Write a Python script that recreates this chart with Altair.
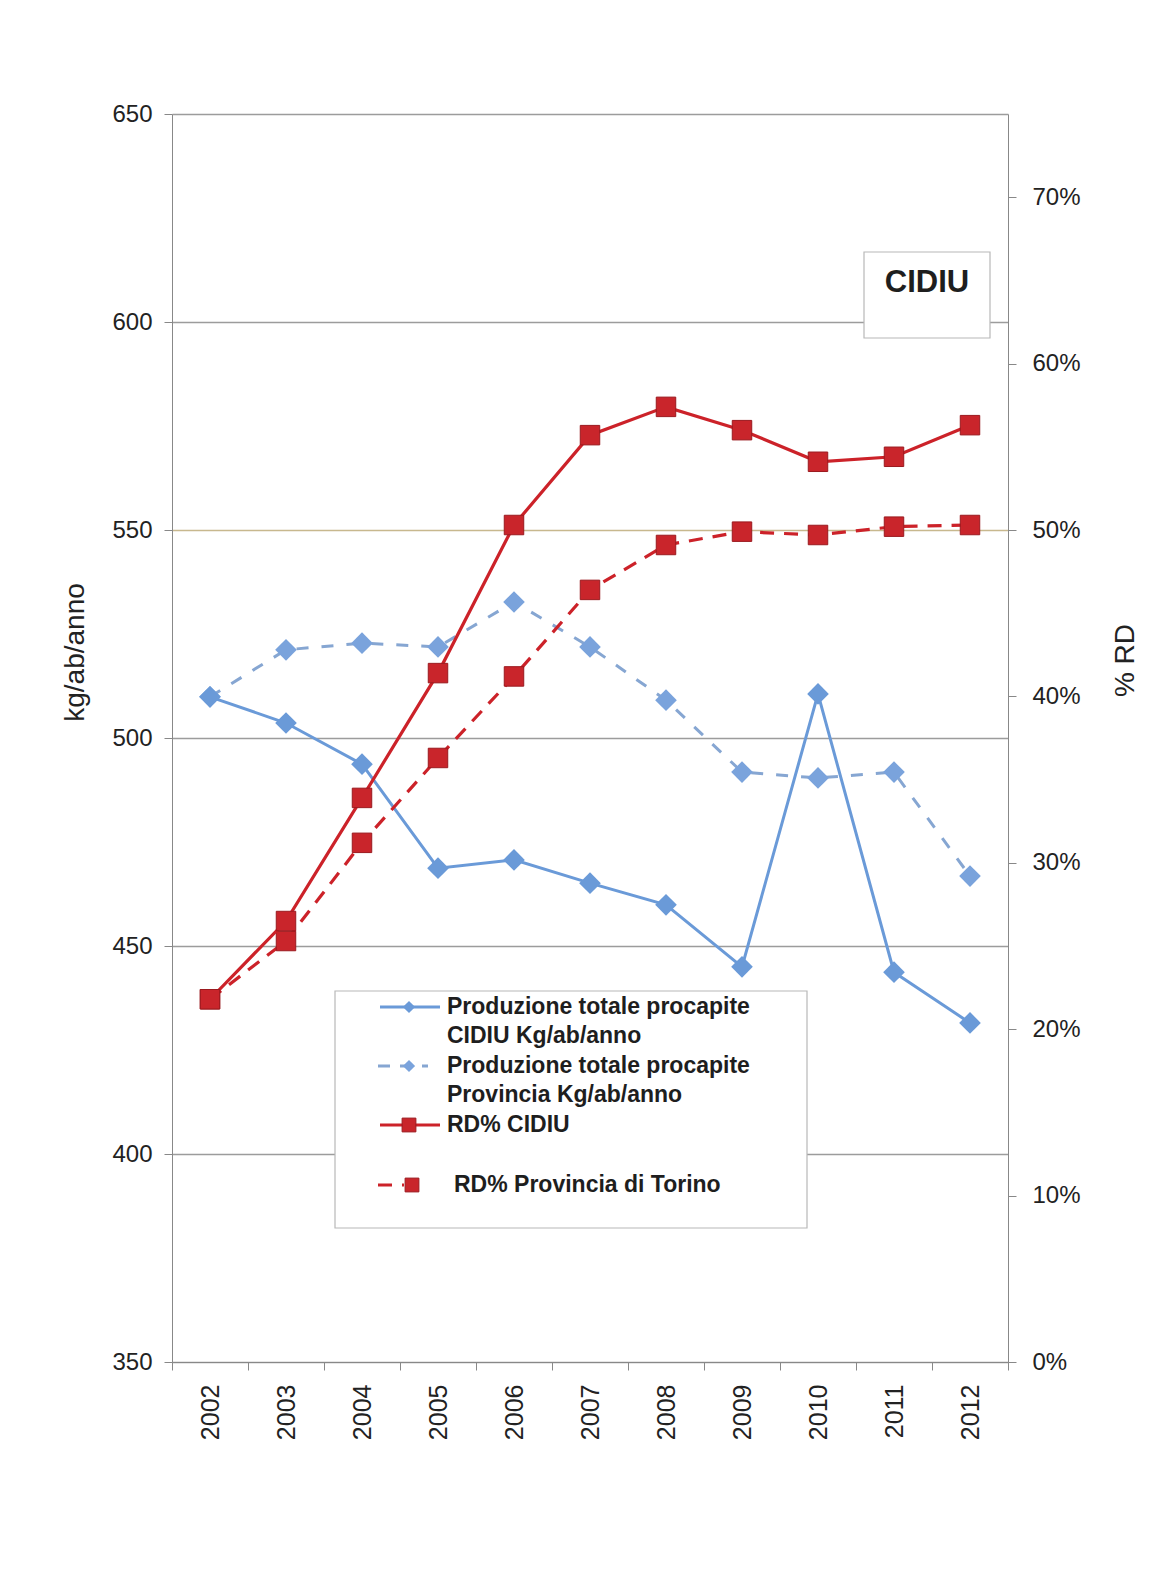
import altair as alt
import pandas as pd

# ---- data ----
years = ["2002", "2003", "2004", "2005", "2006", "2007", "2008", "2009", "2010", "2011", "2012"]
prod_cidiu = [509.9, 503.6, 493.7, 468.7, 470.7, 465.1, 459.9, 445.0, 510.6, 443.7, 431.5]
prod_prov = [509.9, 521.2, 522.8, 521.9, 532.7, 521.9, 509.1, 491.8, 490.4, 491.8, 466.8]
rd_cidiu_pct = [21.8, 26.5, 33.9, 41.4, 50.3, 55.7, 57.4, 56.0, 54.1, 54.4, 56.3]
rd_prov_pct = [21.8, 25.3, 31.2, 36.3, 41.2, 46.4, 49.1, 49.9, 49.7, 50.2, 50.3]

s_pc = "Produzione totale procapite CIDIU Kg/ab/anno"
s_pp = "Produzione totale procapite Provincia Kg/ab/anno"
s_rc = "RD% CIDIU"
s_rp = "RD% Provincia di Torino"

left_ticks = [350, 400, 450, 500, 550, 600, 650]
right_ticks = [0, 0.1, 0.2, 0.3, 0.4, 0.5, 0.6, 0.7]

df_prod = pd.DataFrame({
    "year": years * 2,
    "series": [s_pc] * len(years) + [s_pp] * len(years),
    "value": prod_cidiu + prod_prov,
})
df_rd = pd.DataFrame({
    "year": years * 2,
    "series": [s_rc] * len(years) + [s_rp] * len(years),
    "value": [v / 100 for v in rd_cidiu_pct] + [v / 100 for v in rd_prov_pct],
})

FONT = "Liberation Sans"
BLUE = "#6a9ad8"
BLUE2 = "#86a6d2"
BLUE2M = "#7aa3dc"
RED = "#cc2229"
REDM = "#c9252b"
REDS = "#9b1a1f"

x_enc = alt.X(
    "year:O",
    sort=years,
    scale=alt.Scale(type="band", paddingInner=0, paddingOuter=0),
    bandPosition=0.5,
    axis=alt.Axis(
        title=None, labelAngle=-90, tickBand="extent", labelFontSize=25,
        labelPadding=14, tickSize=8, tickColor="#888", domainColor="#888",
        labelColor="#222", labelFont=FONT, grid=False,
    ),
)

left_axis = alt.Axis(
    values=left_ticks, title="kg/ab/anno", titleX=-97, titleY=538, titleAngle=270,
    titleAlign="center", titleBaseline="middle", titleFontSize=28,
    titleFontWeight="normal", titleFont=FONT, titleColor="#222",
    labelFontSize=24, labelPadding=12, labelFont=FONT, labelColor="#222",
    tickSize=8, tickColor="#888", domainColor="#888", grid=True,
    gridColor={"condition": {"test": "datum.value == 550", "value": "#c8b88e"}, "value": "#9c9c9c"},
    gridWidth=1.5,
)
right_axis = alt.Axis(
    orient="right", values=right_ticks, format=".0%", title="% RD",
    titleX=117, titleY=546, titleAngle=270, titleAlign="center",
    titleBaseline="middle", titleFontSize=28, titleFontWeight="normal",
    titleFont=FONT, titleColor="#222", labelFontSize=24, labelPadding=16,
    labelFont=FONT, labelColor="#222", tickSize=8, tickColor="#888",
    domainColor="#888", grid=False,
)

y_left = alt.Y("value:Q", scale=alt.Scale(domain=[350, 650], nice=False, zero=False), axis=left_axis)
y_right = alt.Y("value:Q", scale=alt.Scale(domain=[0, 0.75], nice=False, zero=False), axis=right_axis)


def series_layers(df, name, y, line_color, dash, width, shape, size, fill, stroke=None):
    base = alt.Chart(df).transform_filter(alt.datum.series == name)
    line_kw = dict(color=line_color, strokeWidth=width)
    if dash:
        line_kw["strokeDash"] = dash
    ln = base.mark_line(**line_kw).encode(x=x_enc, y=y)
    enc = dict(x=x_enc, y=y)
    if stroke:
        enc["stroke"] = alt.value(stroke)
    pt = base.mark_point(shape=shape, filled=True, size=size, color=fill, opacity=1,
                         strokeWidth=1).encode(**enc)
    return [ln, pt]


left = alt.layer(
    *series_layers(df_prod, s_pp, y_left, BLUE2, [12, 13], 3, "diamond", 470, BLUE2M),
    *series_layers(df_prod, s_pc, y_left, BLUE, None, 3, "diamond", 470, BLUE),
)
right = alt.layer(
    *series_layers(df_rd, s_rp, y_right, RED, [14, 10], 3.2, "square", 380, REDM, REDS),
    *series_layers(df_rd, s_rc, y_right, RED, None, 3.2, "square", 380, REDM, REDS),
)

# ---- legend and label box (decorations) ----
one = pd.DataFrame({"k": [0]})


def box(x1, x2, y1, y2):
    return alt.Chart(one).mark_rect(fill="white", stroke="#b8b8b8", strokeWidth=1.2).encode(
        x=alt.value(x1), x2=alt.value(x2), y=alt.value(y1), y2=alt.value(y2))


def hrule(x1, x2, y, color, dash=None, width=3):
    kw = dict(color=color, strokeWidth=width)
    if dash:
        kw["strokeDash"] = dash
    return alt.Chart(one).mark_rule(**kw).encode(x=alt.value(x1), x2=alt.value(x2), y=alt.value(y))


def sym(x, y, shape, color, size, stroke=None):
    enc = dict(x=alt.value(x), y=alt.value(y))
    if stroke:
        enc["stroke"] = alt.value(stroke)
    return alt.Chart(one).mark_point(shape=shape, filled=True, size=size, color=color, opacity=1,
                                     strokeWidth=1).encode(**enc)


def label(x, y, txt, size=23, weight="bold", align="left"):
    return alt.Chart(one).mark_text(align=align, baseline="middle", fontSize=size, fontWeight=weight,
                                    font=FONT, color="#1e1e1e").encode(
        x=alt.value(x), y=alt.value(y), text=alt.value(txt))


legend_layers = [
    box(163, 635, 877, 1114),
    hrule(208, 268, 893, BLUE, width=3),
    sym(237, 893, "diamond", BLUE, 150),
    label(275, 893, "Produzione totale procapite"),
    label(275, 922, "CIDIU Kg/ab/anno"),
    hrule(206, 256, 952, BLUE2, dash=[12, 10], width=3),
    sym(237, 952, "diamond", BLUE2M, 150),
    label(275, 952, "Produzione totale procapite"),
    label(275, 981, "Provincia Kg/ab/anno"),
    hrule(208, 268, 1011, RED, width=3),
    sym(237, 1011, "square", REDM, 190, REDS),
    label(275, 1011, "RD% CIDIU"),
    hrule(206, 232, 1071, RED, dash=[14, 10], width=3),
    sym(240, 1071, "square", REDM, 190, REDS),
    label(282, 1071, "RD% Provincia di Torino"),
    box(692, 818, 138, 224),
    label(755, 169, "CIDIU", size=31, align="center"),
]

chart = alt.layer(left, right, *legend_layers).resolve_scale(
    y="independent"
).properties(
    width=836, height=1248,
    autosize=alt.AutoSizeParams(type="none"),
    padding={"left": 164, "top": 106, "right": 132, "bottom": 200},
    background="white",
).configure_view(stroke=None)

chart.save("out.html", embed_options={"renderer": "svg", "actions": False})
